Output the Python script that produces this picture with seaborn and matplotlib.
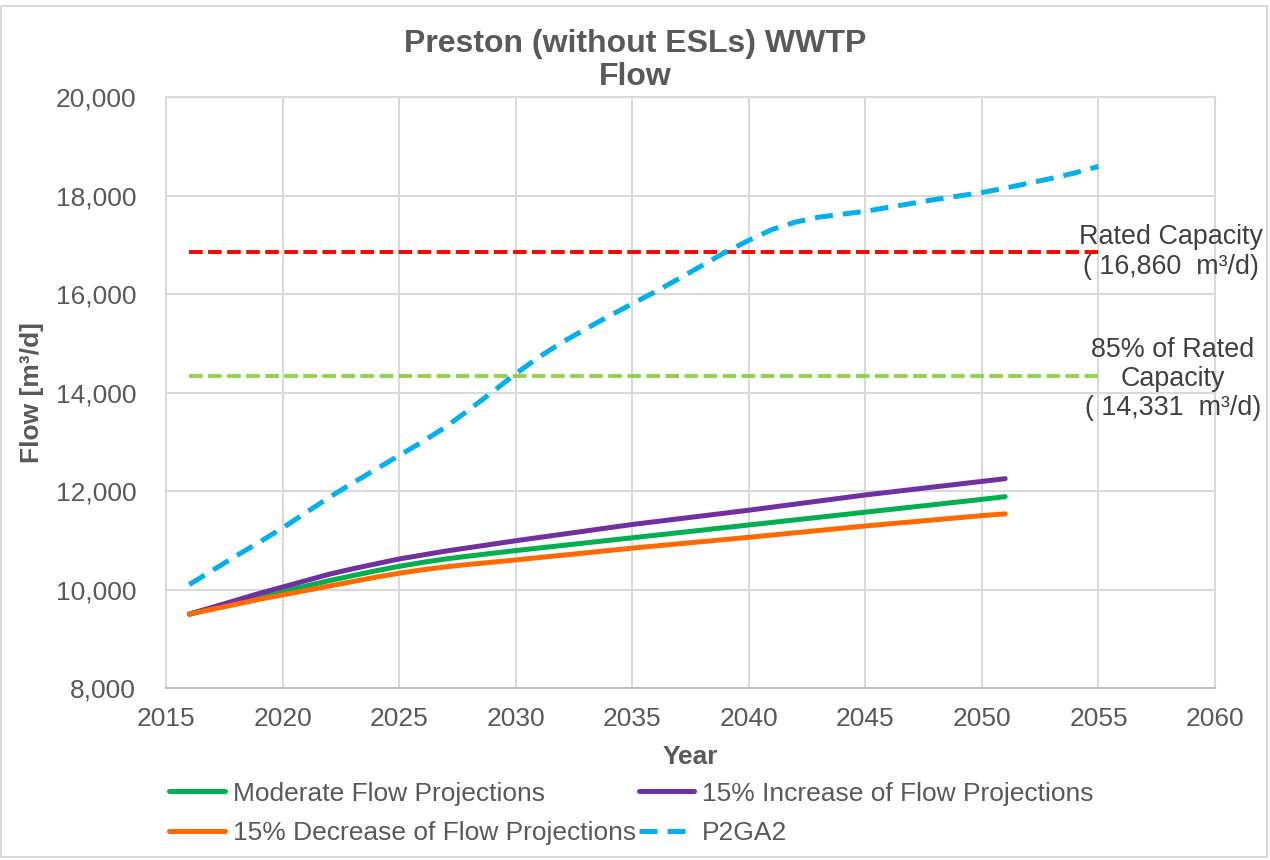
"""
Preston (without ESLs) WWTP - flow projections vs rated capacity
"""

import matplotlib.pyplot as plt
import pandas as pd
import seaborn as sns
from matplotlib.patches import Rectangle

# --- data ---
proj_years = [2016, 2017, 2018, 2019, 2020, 2021, 2022, 2023, 2024, 2025,
              2026, 2027, 2028, 2030, 2035, 2040, 2045, 2050, 2051]
moderate = [9500, 9620, 9740, 9850, 9960, 10070, 10180, 10280, 10380, 10470,
            10550, 10620, 10680, 10790, 11050, 11310, 11570, 11830, 11885]
increase = [9500, 9640, 9780, 9920, 10050, 10180, 10310, 10420, 10520, 10620,
            10700, 10780, 10850, 10990, 11320, 11610, 11920, 12195, 12250]
decrease = [9500, 9600, 9700, 9800, 9890, 9980, 10070, 10160, 10250, 10330,
            10400, 10460, 10510, 10600, 10840, 11060, 11290, 11500, 11535]

p2ga2_years = list(range(2016, 2056))
p2ga2 = [10100, 10390, 10680, 10960, 11250, 11560, 11870, 12160, 12440, 12720,
         13000, 13300, 13650, 14010, 14380, 14720, 15020, 15290, 15550, 15800,
         16050, 16310, 16580, 16850, 17090, 17310, 17460, 17560, 17620, 17680,
         17760, 17840, 17920, 17990, 18060, 18150, 18250, 18350, 18460, 18590]

cap_years = [2016, 2055]
rated_capacity = 16860
capacity_85 = 14331

x_ticks = list(range(2015, 2061, 5))
y_ticks = list(range(8000, 20001, 2000))

GREY = "#595959"

sns.set_theme(style="white")
plt.rcParams["font.family"] = ["Liberation Sans", "DejaVu Sans"]

fig = plt.figure(figsize=(12.7, 8.6), dpi=100)
ax = fig.add_axes([0.1307, 0.2, 0.8260, 0.6872])

solid = [
    ("Moderate Flow Projections", moderate, "#00B050"),
    ("15% Increase of Flow Projections", increase, "#7030A0"),
    ("15% Decrease of Flow Projections", decrease, "#FF6A00"),
]

sns.lineplot(x=cap_years, y=[rated_capacity] * 2, ax=ax, color="#FF0000",
             linewidth=2.8, linestyle=(0, (3.5, 1.4)), legend=False)
sns.lineplot(x=cap_years, y=[capacity_85] * 2, ax=ax, color="#92D050",
             linewidth=2.8, linestyle=(0, (3.5, 1.4)), legend=False)

for name, vals, col in solid:
    df = pd.DataFrame({"year": proj_years, "flow": vals})
    sns.lineplot(data=df, x="year", y="flow", ax=ax, color=col, linewidth=3.6,
                 label=name, solid_capstyle="round", solid_joinstyle="round")

sns.lineplot(x=p2ga2_years, y=p2ga2, ax=ax, color="#00B0F0", linewidth=3.6,
             linestyle=(0, (3.6, 2.0)), label="P2GA2")

ax.set_xlim(2015, 2060)
ax.set_ylim(8000, 20000)
ax.set_xticks(x_ticks)
ax.set_yticks(y_ticks)
ax.set_yticklabels([f"{v:,}" for v in y_ticks])
ax.tick_params(axis="both", labelsize=19, colors=GREY, length=0)
ax.tick_params(axis="y", pad=21.5)
ax.tick_params(axis="x", pad=14)
ax.grid(True, color="#D9D9D9", linewidth=1.5)
for sp in ax.spines.values():
    sp.set_color("#D9D9D9")
    sp.set_linewidth(1.5)
ax.spines["bottom"].set_color("#BFBFBF")

ax.set_xlabel("Year", fontsize=19, fontweight="bold", color=GREY, labelpad=10)
ax.set_ylabel("Flow [m³/d]", fontsize=19, fontweight="bold", color=GREY, labelpad=8)

fig.text(0.5, 0.966, "Preston (without ESLs) WWTP\nFlow", ha="center", va="top",
         fontsize=23, fontweight="bold", color=GREY, linespacing=1.12)

ax.text(2058.1, 16860, "Rated Capacity\n( 16,860  m³/d)", ha="center", va="center",
        fontsize=19.4, color="#404040", clip_on=False, linespacing=1.2)
ax.text(2058.2, 14280, "85% of Rated\nCapacity\n( 14,331  m³/d)", ha="center",
        va="center", fontsize=19.4, color="#404040", clip_on=False, linespacing=1.15)

h, l = ax.get_legend_handles_labels()
order = [0, 2, 1, 3]
ax.legend([h[i] for i in order], [l[i] for i in order], ncol=2, frameon=False,
          loc="upper left", bbox_to_anchor=(0.125, 0.1034), bbox_transform=fig.transFigure,
          fontsize=19, labelcolor=GREY, handlelength=2.1, handletextpad=0.3,
          columnspacing=0.12, borderaxespad=0, labelspacing=0.58)

fig.add_artist(Rectangle((0.001, 0.003), 0.997, 0.99, transform=fig.transFigure,
                         fill=False, edgecolor="#D9D9D9", linewidth=1.5))

fig.savefig("out.png", dpi=100)
